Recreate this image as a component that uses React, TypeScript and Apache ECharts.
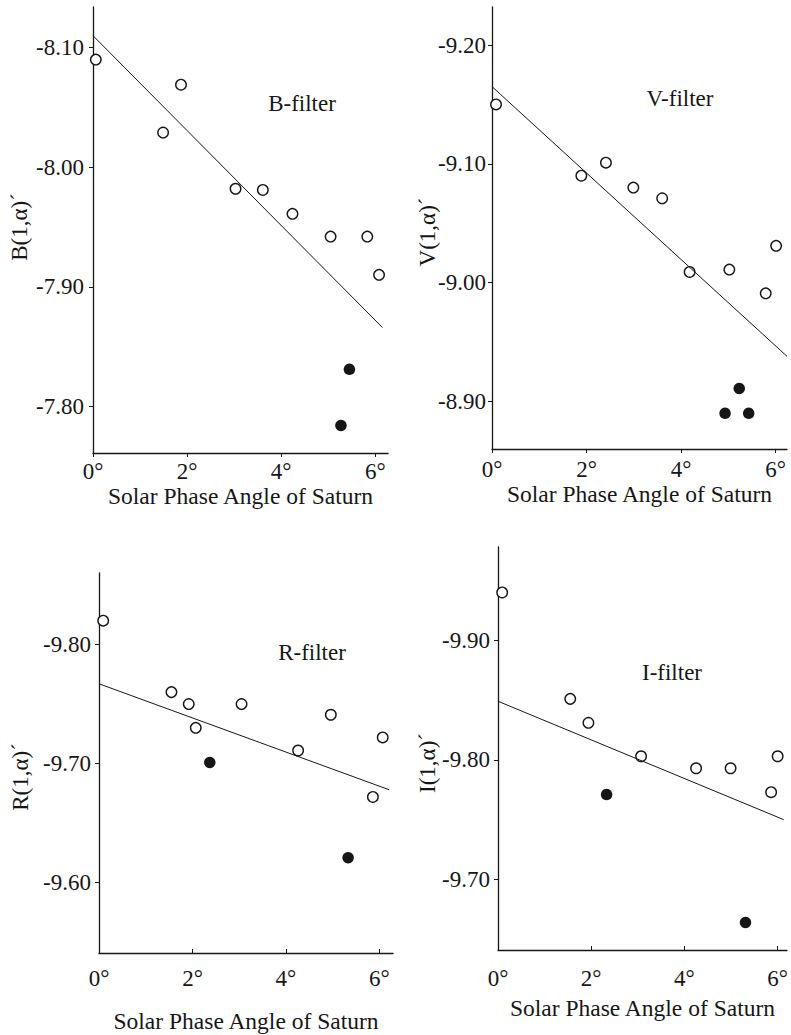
import React, { useEffect, useRef } from "react";
import * as echarts from "echarts";

// ---------- data ----------
const xTickValues = [0, 2, 4, 6];

const bOpen = [[0.06, -8.09], [1.49, -8.029], [1.87, -8.069], [3.03, -7.982], [3.61, -7.981], [4.24, -7.961], [5.05, -7.942], [5.83, -7.942], [6.08, -7.91]];
const bFilled = [[5.45, -7.831], [5.27, -7.784]];
const bFit = [[0, -8.11], [6.15, -7.866]];
const bTicks = [-8.1, -8.0, -7.9, -7.8];

const vOpen = [[0.085, -9.15], [1.89, -9.09], [2.41, -9.101], [2.99, -9.08], [3.6, -9.071], [4.18, -9.009], [5.02, -9.011], [5.79, -8.991], [6.01, -9.031]];
const vFilled = [[5.23, -8.911], [4.93, -8.89], [5.43, -8.89]];
const vFit = [[0, -9.165], [6.24, -8.938]];
const vTicks = [-9.2, -9.1, -9.0, -8.9];

const rOpen = [[0.09, -9.82], [1.55, -9.76], [1.92, -9.75], [2.07, -9.73], [3.05, -9.75], [4.26, -9.711], [4.96, -9.741], [6.07, -9.722], [5.86, -9.672]];
const rFilled = [[2.37, -9.701], [5.33, -9.621]];
const rFit = [[0, -9.767], [6.21, -9.678]];
const rTicks = [-9.8, -9.7, -9.6];

const iOpen = [[0.09, -9.94], [1.55, -9.851], [1.94, -9.831], [3.07, -9.803], [4.25, -9.793], [4.99, -9.793], [5.86, -9.773], [6.0, -9.803]];
const iFilled = [[2.33, -9.771], [5.31, -9.664]];
const iFit = [[0, -9.849], [6.13, -9.75]];
const iTicks = [-9.9, -9.8, -9.7];

const filterNames = ["B-filter", "V-filter", "R-filter", "I-filter"];
const yNames = ["B(1,\u03b1)\u00b4", "V(1,\u03b1)\u00b4", "R(1,\u03b1)\u00b4", "I(1,\u03b1)\u00b4"];
const xName = "Solar Phase Angle of Saturn";

const FONT = "Liberation Serif";
const INK = "#161616";

export default function App() {
  const ref = useRef<HTMLDivElement>(null);

  useEffect(() => {
    if (!ref.current) return;
    const chart = echarts.init(ref.current, null, { renderer: "svg" });

    const panels = [
      { open: bOpen, filled: bFilled, fit: bFit, ticks: bTicks, grid: { left: 93, top: 7, width: 295, height: 446 }, xMax: 6.27, yMin: -8.134, yMax: -7.761, xLabelMargin: 7, xNameGap: 24, tickInside: false, yLabelMargin: 9, yName: { x: 19, y: 227 }, filter: { x: 302, y: 103 } },
      { open: vOpen, filled: vFilled, fit: vFit, ticks: vTicks, grid: { left: 492, top: 7, width: 295, height: 442 }, xMax: 6.24, yMin: -9.232, yMax: -8.86, xLabelMargin: 9, xNameGap: 32, tickInside: false, yLabelMargin: 6, yName: { x: 427, y: 232 }, filter: { x: 680, y: 98 } },
      { open: rOpen, filled: rFilled, fit: rFit, ticks: rTicks, grid: { left: 99, top: 573, width: 294, height: 380 }, xMax: 6.29, yMin: -9.86, yMax: -9.541, xLabelMargin: 14, xNameGap: 56, tickInside: true, yLabelMargin: 8, yName: { x: 20, y: 777 }, filter: { x: 312, y: 652 } },
      { open: iOpen, filled: iFilled, fit: iFit, ticks: iTicks, grid: { left: 498, top: 547, width: 290, height: 403 }, xMax: 6.2, yMin: -9.978, yMax: -9.641, xLabelMargin: 17, xNameGap: 46, tickInside: true, yLabelMargin: 8, yName: { x: 427, y: 763 }, filter: { x: 672, y: 672 } },
    ];

    const axisLine = { show: true, onZero: false, lineStyle: { color: INK, width: 1.3 } };

    const grids = panels.map((p) => ({ ...p.grid, containLabel: false }));
    const xAxes = panels.map((p, i) => ({
      type: "value",
      gridIndex: i,
      min: 0,
      max: p.xMax,
      splitLine: { show: false },
      axisLine,
      axisTick: { show: true, inside: p.tickInside, length: 4, customValues: xTickValues, lineStyle: { color: INK, width: 1 } },
      axisLabel: {
        show: true,
        margin: p.xLabelMargin,
        customValues: xTickValues,
        formatter: (v: number) => `${v}\u00b0`,
        fontFamily: FONT,
        fontSize: 23,
        color: INK,
      },
      name: xName,
      nameLocation: "middle",
      nameGap: p.xNameGap,
      nameTextStyle: { fontFamily: FONT, fontSize: 23.5, color: INK },
    }));
    const yAxes = panels.map((p, i) => ({
      type: "value",
      gridIndex: i,
      inverse: true,
      min: p.yMin,
      max: p.yMax,
      splitLine: { show: false },
      axisLine,
      axisTick: { show: true, inside: false, length: 4, customValues: p.ticks, lineStyle: { color: INK, width: 1 } },
      axisLabel: {
        show: true,
        margin: p.yLabelMargin,
        customValues: p.ticks,
        formatter: (v: number) => v.toFixed(2),
        fontFamily: FONT,
        fontSize: 23,
        color: INK,
      },
    }));

    const series: any[] = [];
    panels.forEach((p, i) => {
      series.push({
        type: "line",
        xAxisIndex: i,
        yAxisIndex: i,
        data: p.fit,
        showSymbol: false,
        symbol: "none",
        lineStyle: { color: INK, width: 1 },
        silent: true,
      });
      series.push({
        type: "scatter",
        xAxisIndex: i,
        yAxisIndex: i,
        data: p.open,
        symbol: "circle",
        symbolSize: 10.5,
        itemStyle: { color: "#ffffff", borderColor: INK, borderWidth: 1.4, opacity: 1 },
      });
      series.push({
        type: "scatter",
        xAxisIndex: i,
        yAxisIndex: i,
        data: p.filled,
        symbol: "circle",
        symbolSize: 11.5,
        itemStyle: { color: INK, opacity: 1 },
      });
    });

    const graphic: any[] = [];
    panels.forEach((p, i) => {
      graphic.push({
        type: "text",
        x: p.filter.x,
        y: p.filter.y,
        style: { text: filterNames[i], fontFamily: FONT, fontSize: 23, fill: INK, align: "center", verticalAlign: "middle" },
      });
      graphic.push({
        type: "text",
        x: p.yName.x,
        y: p.yName.y,
        rotation: Math.PI / 2,
        style: { text: yNames[i], fontFamily: FONT, fontSize: 23, fill: INK, align: "center", verticalAlign: "middle" },
      });
    });

    chart.setOption({
      animation: false,
      backgroundColor: "#ffffff",
      textStyle: { fontFamily: FONT, color: INK },
      grid: grids,
      xAxis: xAxes,
      yAxis: yAxes,
      series,
      graphic,
    });

    return () => chart.dispose();
  }, []);

  return (
    <div
      ref={ref}
      style={{ position: "absolute", left: 0, top: 0, width: 791, height: 1035, background: "#ffffff" }}
    />
  );
}
